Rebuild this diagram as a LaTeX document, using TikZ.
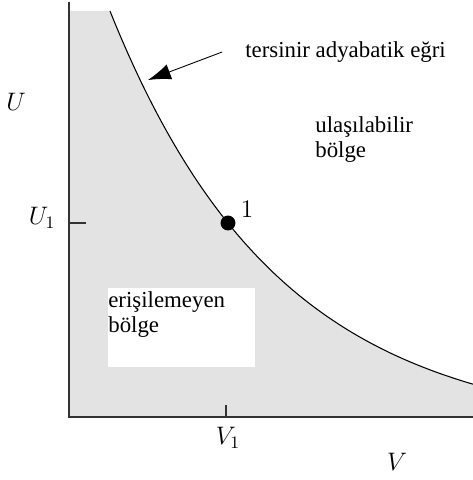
\documentclass[tikz,border=0pt]{standalone}
\usepackage{fontspec}
\setmainfont{Liberation Serif}
\usetikzlibrary{arrows.meta}
\definecolor{zonegray}{RGB}{227,227,227}

\begin{document}
\begin{tikzpicture}[>={Latex[length=13pt,width=9pt]}, x=0.02cm, y=0.02cm,
  txt/.style={font=\fontsize{13}{14.5}\selectfont, inner sep=0pt, align=left},
  lbl/.style={font=\fontsize{14.4}{17}\selectfont, inner sep=0pt},
  axisline/.style={line width=0.8pt, black!80}]

  \useasboundingbox (-69,-63) rectangle (404,417);

  % --- Zona inaccesible (gris) ---
  \fill[zonegray] (0,0) -- (0,406) -- (41,406)
    -- plot[domain=41:404, samples=80] (\x, {538.3*exp(-0.0059*\x)-16.7})
    -- (404,0) -- cycle;

  % --- Recuadro blanco con texto ---
  \fill[white] (39,50) rectangle (186,129);
  \node[txt, anchor=north west] (noreach) at (39,126) {erişilemeyen\\bölge};

  % --- Curva adiabatica ---
  \draw[line width=0.6pt] plot[domain=41:404, samples=80]
    (\x, {538.3*exp(-0.0059*\x)-16.7});

  % --- Ejes ---
  \draw[axisline] (0,415) -- (0,0) -- (404,0);
  \node[lbl] (Ulab) at (-53,315) {$U$};
  \node[lbl] (Vlab) at (328,-45) {$V$};

  % --- Marcas ---
  \draw[axisline] (0,194) -- (17,194);
  \draw[axisline] (157,0) -- (157,12);
  \node[lbl] (U1lab) at (-27,199) {$U_1$};
  \node[lbl] (V1lab) at (159,-21) {$V_1$};

  % --- Estado 1 ---
  \node[circle, fill=black, inner sep=0pt, minimum size=8.5pt] (state1) at (159,194) {};
  \node[lbl] (s1lab) at (178,208) {$1$};

  % --- Textos y flecha ---
  \node[txt, anchor=west] (adlab) at (176,365) {tersinir adyabatik eğri};
  \node[txt, anchor=north west] (reach) at (246,301) {ulaşılabilir\\bölge};
  \coordinate (tip) at (79,337);
  \draw[->, line width=0.5pt] ([xshift=-13pt]adlab.west) -- (tip);

\end{tikzpicture}
\end{document}
